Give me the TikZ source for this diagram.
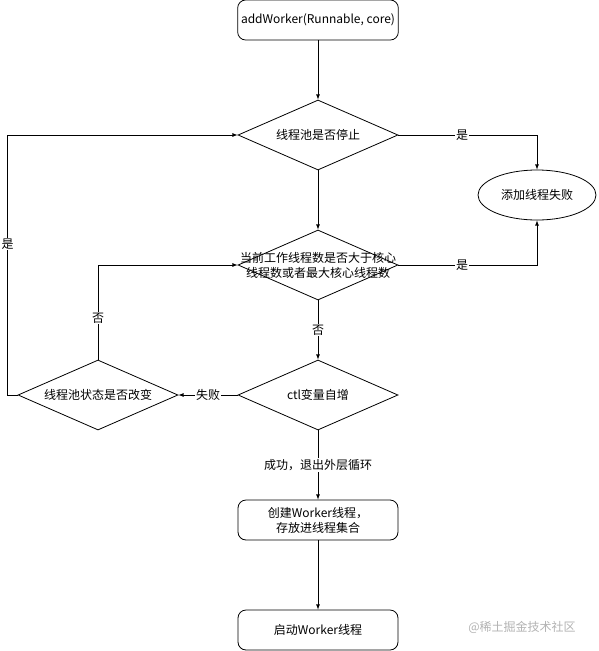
\documentclass[tikz,border=0pt]{standalone}
\usepackage{fontspec}
\setmainfont{Noto Sans CJK SC}
\usetikzlibrary{shapes.geometric}
\begin{document}
\begin{tikzpicture}[x=1pt,y=-1pt,>=latex,line width=0.8pt,font=\fontsize{12}{15}\selectfont,
  box/.style={draw,rounded corners=8pt,minimum width=160pt,minimum height=40pt,align=center},
  decide/.style={draw,diamond,inner sep=0pt,minimum width=160pt,minimum height=70pt},
  endpt/.style={draw,ellipse,minimum width=118pt,minimum height=50pt},
  lbl/.style={fill=white,inner sep=1pt}]
\useasboundingbox (0,0) rectangle (598,651);
\node[box] (add) at (318,20) {addWorker(Runnable, core)};
\node[decide,label={center:线程池是否停止}] (stop) at (318,135) {};
\node[endpt] (fail) at (537,195) {添加线程失败};
\node[decide,label={[align=center]center:当前工作线程数是否大于核心\\线程数或者最大核心线程数}] (full) at (318,265) {};
\node[decide,label={center:ctl变量自增}] (inc) at (318,395) {};
\node[decide,label={center:线程池状态是否改变}] (state) at (98,395) {};
\node[box] (create) at (318,520) {创建Worker线程，\\存放进线程集合};
\node[box] (start) at (318,630) {启动Worker线程};
\node[text=gray!60] (mark) at (522,627) {@稀土掘金技术社区};
% main flow
\draw[->] (add) -- (stop);
\draw[->] (stop) -- (full);
\draw[->] (full) -- node[lbl]{否} (inc);
\draw[->] (inc) -- node[lbl]{成功，退出外层循环} (create);
\draw[->] (create) -- (start);
% failure branches
\draw[->] (stop.east) -| node[lbl,pos=0.23]{是} (fail.north);
\draw[->] (full.east) -| node[lbl,pos=0.23]{是} (fail.south);
\draw[->] (inc.west) -- node[lbl]{失败} (state.east);
% retry loops
\draw[->] (state.north) |- node[lbl,pos=0.22]{否} (full.west);
\draw[->] (state.west) -- ++(-10,0) |- node[lbl,pos=0.29]{是} (stop.west);
\end{tikzpicture}
\end{document}
